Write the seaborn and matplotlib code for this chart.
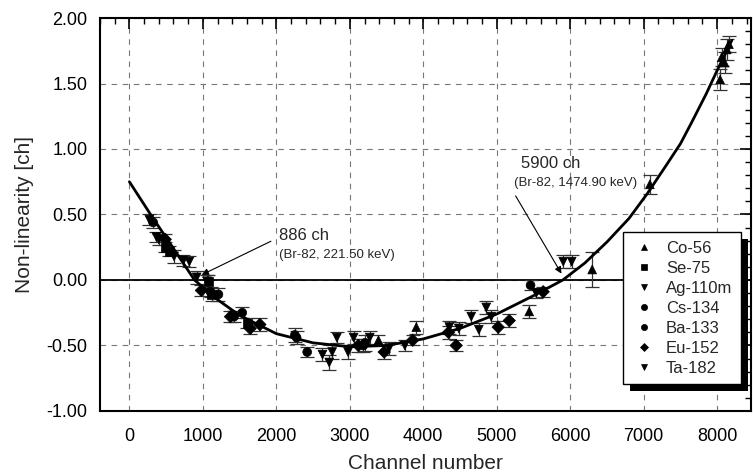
import numpy as np
import pandas as pd
import matplotlib
matplotlib.use("Agg")
import matplotlib.pyplot as plt
import matplotlib.patheffects as pe
from matplotlib.ticker import MultipleLocator, FormatStrFormatter
import seaborn as sns

# measured points per isotope: channel, non-linearity, error
co56_x = [3390, 3905, 5442, 6299, 7084, 8040, 8060, 8100, 8130, 8160]
co56_y = [-0.46, -0.36, -0.24, 0.08, 0.73, 1.53, 1.70, 1.66, 1.76, 1.80]
co56_e = [0.04, 0.05, 0.05, 0.13, 0.07, 0.08, 0.07, 0.08, 0.08, 0.06]

se75_x = [484, 544, 1075, 1120, 1604]
se75_y = [0.25, 0.22, -0.01, -0.11, -0.33]
se75_e = [0.04, 0.04, 0.05, 0.05, 0.04]

ag110m_x = [2628, 2720, 2760, 2824, 2976, 3052, 3272, 3536, 3748, 5537, 5905, 6020]
ag110m_y = [-0.57, -0.63, -0.55, -0.44, -0.55, -0.44, -0.44, -0.52, -0.50, -0.10, 0.14, 0.14]
ag110m_e = [0.05, 0.06, 0.05, 0.04, 0.05, 0.05, 0.05, 0.05, 0.04, 0.04, 0.05, 0.05]

cs134_x = [2252, 2276, 2420, 3184, 3208, 5460]
cs134_y = [-0.42, -0.44, -0.55, -0.50, -0.48, -0.04]
cs134_e = [0.05, 0.05, 0.04, 0.05, 0.06, 0.04]

ba133_x = [324, 1104, 1212, 1424, 1536]
ba133_y = [0.44, -0.09, -0.11, -0.28, -0.25]
ba133_e = [0.04, 0.04, 0.05, 0.04, 0.04]

eu152_x = [488, 980, 1376, 1644, 1776, 3116, 3468, 3856, 4344, 4448, 5020, 5170, 5632]
eu152_y = [0.31, -0.08, -0.28, -0.37, -0.34, -0.50, -0.55, -0.46, -0.40, -0.50, -0.36, -0.31, -0.09]
eu152_e = [0.04, 0.04, 0.04, 0.04, 0.05, 0.05, 0.05, 0.04, 0.05, 0.04, 0.05, 0.05, 0.04]

ta182_x = [272, 367, 400, 608, 735, 816, 916, 1056, 4354, 4484, 4653, 4756, 4857, 4924]
ta182_y = [0.46, 0.33, 0.31, 0.18, 0.15, 0.14, 0.02, -0.01, -0.36, -0.37, -0.28, -0.38, -0.21, -0.28]
ta182_e = [0.04, 0.04, 0.04, 0.05, 0.04, 0.04, 0.05, 0.05, 0.05, 0.05, 0.05, 0.05, 0.05, 0.05]

# fitted curve
fit_x = [0, 300, 600, 886, 1200, 1500, 2000, 2500, 3000, 3500, 4000, 4500, 5000,
         5500, 5900, 6200, 6500, 6800, 7050, 7300, 7500, 7650, 7850, 8000, 8200]
fit_y = [0.75, 0.49, 0.24, 0.0, -0.15, -0.27, -0.41, -0.48, -0.51, -0.50, -0.45, -0.37,
         -0.26, -0.12, 0.0, 0.13, 0.29, 0.47, 0.66, 0.87, 1.04, 1.20, 1.42, 1.60, 1.83]

isotopes = ["Co-56", "Se-75", "Ag-110m", "Cs-134", "Ba-133", "Eu-152", "Ta-182"]
markers = {"Co-56": "^", "Se-75": "s", "Ag-110m": "v", "Cs-134": "o",
           "Ba-133": "o", "Eu-152": "D", "Ta-182": "v"}

series = [(co56_x, co56_y, co56_e), (se75_x, se75_y, se75_e), (ag110m_x, ag110m_y, ag110m_e),
          (cs134_x, cs134_y, cs134_e), (ba133_x, ba133_y, ba133_e), (eu152_x, eu152_y, eu152_e),
          (ta182_x, ta182_y, ta182_e)]
frames = []
for name, (xs, ys, es) in zip(isotopes, series):
    frames.append(pd.DataFrame({"channel": xs, "nl": ys, "err": es, "isotope": name}))
df = pd.concat(frames, ignore_index=True)
fit = pd.DataFrame({"channel": fit_x, "nl": fit_y})

sns.set_theme(style="white")
plt.rcParams["font.family"] = ["Liberation Sans", "DejaVu Sans"]
plt.rcParams["axes.unicode_minus"] = False

fig = plt.figure(figsize=(7.53, 4.74), dpi=100)
ax = fig.add_axes([0.1328, 0.133, 0.8645, 0.829])

ax.errorbar(df["channel"], df["nl"], yerr=df["err"], fmt="none", ecolor="#333333",
            elinewidth=0.9, capsize=5, capthick=0.9, zorder=3)
sns.lineplot(data=fit, x="channel", y="nl", color="black", lw=2.0, ax=ax, zorder=4,
             estimator=None, sort=False)
sns.scatterplot(data=df, x="channel", y="nl", style="isotope", style_order=isotopes,
                markers=markers, color="black", edgecolor="black", s=40, ax=ax, zorder=5)

ax.axhline(0, color="black", lw=1.3, zorder=2)

ax.set_xlim(-400, 8460)
ax.set_ylim(-1.0, 2.0)
ax.xaxis.set_major_locator(MultipleLocator(1000))
ax.xaxis.set_minor_locator(MultipleLocator(200))
ax.yaxis.set_major_locator(MultipleLocator(0.5))
ax.yaxis.set_minor_locator(MultipleLocator(0.1))
ax.yaxis.set_major_formatter(FormatStrFormatter("%.2f"))
ax.tick_params(which="both", direction="in", top=True, right=True, colors="black")
ax.tick_params(which="major", length=8, width=1.2, labelsize=13)
ax.tick_params(axis="x", which="major", pad=12)
ax.tick_params(axis="y", which="major", pad=9)
ax.tick_params(which="minor", length=4, width=1.0)
ax.grid(True, which="major", color="#777777", ls=(0, (5, 5)), lw=0.8)
for s in ax.spines.values():
    s.set_color("black")
    s.set_linewidth(1.5)

ax.set_xlabel("Channel number", fontsize=15, labelpad=7)
ax.set_ylabel("Non-linearity [ch]", fontsize=15, labelpad=9)

ax.annotate("", xy=(950, 0.03), xytext=(1960, 0.305),
            arrowprops=dict(arrowstyle="-|>", color="black", lw=0.8, mutation_scale=10))
ax.text(2040, 0.34, "886 ch", fontsize=12, va="center", ha="left")
ax.text(2040, 0.19, "(Br-82, 221.50 keV)", fontsize=9.5, va="center", ha="left")
ax.annotate("", xy=(5900, 0.03), xytext=(5238, 0.66),
            arrowprops=dict(arrowstyle="-|>", color="black", lw=0.8, mutation_scale=10))
ax.text(5333, 0.89, "5900 ch", fontsize=12, va="center", ha="left")
ax.text(5238, 0.74, "(Br-82, 1474.90 keV)", fontsize=9.5, va="center", ha="left")

handles, labels = ax.get_legend_handles_labels()
leg = ax.legend(handles, labels, loc="upper left", bbox_to_anchor=(0.803, 0.455),
                borderaxespad=0, fancybox=False, edgecolor="black", framealpha=1,
                fontsize=12, labelspacing=0.3, handletextpad=0.6, borderpad=0.5,
                markerscale=0.7, handlelength=1.5)
leg.get_frame().set_linewidth(1.0)
leg.legendPatch.set_path_effects([
    pe.SimplePatchShadow(offset=(5, -5), shadow_rgbFace="black", alpha=1.0),
    pe.Normal()])
leg.set_zorder(10)

fig.savefig("out.png", dpi=100)
